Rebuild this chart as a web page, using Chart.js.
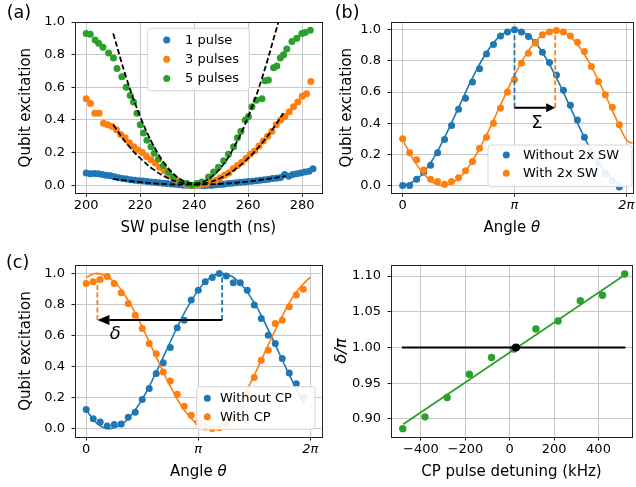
<!DOCTYPE html>
<html>
<head>
<meta charset="utf-8">
<script src="https://cdn.jsdelivr.net/npm/chart.js@4.4.1/dist/chart.umd.min.js"></script>
<style>
  html, body { margin: 0; padding: 0; background: #fff; }
  #wrap { position: relative; width: 636px; height: 487px; overflow: hidden; }
  #wrap canvas { position: absolute; }
</style>
</head>
<body>
<div id="wrap">
  <canvas id="pa" width="325" height="240" style="left:0;top:0"></canvas>
  <canvas id="pb" width="318" height="240" style="left:318px;top:0"></canvas>
  <canvas id="pc" width="325" height="247" style="left:0;top:240px"></canvas>
  <canvas id="pd" width="318" height="247" style="left:318px;top:240px"></canvas>
</div>
<script>
// ---- (a) excitation vs SW pulse length ----
var len1 = [200, 201.5, 203, 204.5, 206, 207.5, 209, 210.5, 212, 213.5, 215, 216.5, 218, 219.5, 221, 222.5, 224, 225.5, 227, 228.5,
            230, 231.5, 233, 234.5, 236, 237.5, 239, 240.5, 242, 243.5, 245, 246.5, 248, 249.5, 251, 252.5, 254, 255.5, 257, 258.5,
            260, 261.5, 263, 264.5, 266, 267.5, 269, 270.5, 272, 273.5, 275, 276.5, 278, 279.5, 281, 282.5, 284];
var exc1 = [0.075, 0.07, 0.072, 0.07, 0.065, 0.06, 0.058, 0.052, 0.045, 0.04, 0.038, 0.033, 0.03, 0.027, 0.025, 0.022, 0.02, 0.018, 0.015, 0.012,
            0.01, 0.007, 0.005, 0.003, 0.0, 0.0, -0.002, 0.0, 0.0, -0.003, 0.0, -0.002, 0.002, 0.004, 0.006, 0.01, 0.012, 0.015, 0.017, 0.02,
            0.022, 0.024, 0.027, 0.03, 0.033, 0.036, 0.04, 0.043, 0.047, 0.065, 0.055, 0.065, 0.07, 0.075, 0.08, 0.085, 0.1];
var len3 = [200, 201.6, 203.2, 204.8, 206.4, 208, 209.6, 211.2, 212.8, 214.4, 216, 217.6, 219.2, 220.8, 222.4, 224, 225.6, 227.2,
            228.8, 230.4, 232, 233.6, 235.2, 236.8, 238.4, 240, 241.6, 243.2, 244.8, 246.4, 248, 249.6, 251.2, 252.8, 254.4, 256,
            257.6, 259.2, 260.8, 262.4, 264, 265.6, 267.2, 268.8, 270.4, 272, 273.6, 275.2, 276.8, 278.4, 280, 281.6, 283.2];
var exc3 = [0.53, 0.50, 0.44, 0.44, 0.38, 0.37, 0.36, 0.34, 0.31, 0.29, 0.26, 0.235, 0.215, 0.20, 0.175, 0.155, 0.135, 0.11,
            0.09, 0.07, 0.05, 0.03, 0.015, 0.005, 0.0, 0.0, 0.0, 0.005, 0.01, 0.02, 0.03, 0.045, 0.06, 0.075, 0.1, 0.12,
            0.14, 0.165, 0.19, 0.21, 0.24, 0.27, 0.30, 0.33, 0.37, 0.40, 0.42, 0.45, 0.48, 0.51, 0.545, 0.56, 0.635];
var len5 = [200.0, 201.5, 203.3, 204.6, 206.2, 208.3, 210.1, 211.4, 213.2, 214.8, 216.3, 217.5, 218.8, 220.0, 221.2, 222.5, 224.0,
            225.2, 226.8, 228.6, 230.5, 232.3, 234.8, 237.3, 239.1, 241.0, 242.8, 245.3, 247.2, 249.0, 250.9, 252.7, 254.6, 256.0,
            257.3, 258.9, 260.1, 261.4, 263.0, 265.1, 266.3, 267.5, 269.4, 270.6, 271.9, 273.1, 274.3, 276.2, 278.0, 279.9, 281.1, 283.0];
var exc5 = [0.93, 0.925, 0.89, 0.87, 0.845, 0.81, 0.78, 0.715, 0.665, 0.60, 0.55, 0.51, 0.44, 0.37, 0.32, 0.275, 0.235,
            0.195, 0.16, 0.12, 0.08, 0.05, 0.02, 0.01, 0.0, 0.01, 0.02, 0.05, 0.08, 0.11, 0.15, 0.19, 0.235, 0.29,
            0.33, 0.40, 0.42, 0.48, 0.52, 0.53, 0.64, 0.645, 0.72, 0.73, 0.78, 0.80, 0.835, 0.88, 0.90, 0.93, 0.935, 0.95];
var fitLen1 = [210, 220, 230, 240, 250, 260, 274];
var fitExc1 = [0.038, 0.018, 0.006, 0.003, 0.008, 0.022, 0.055];
var fitLen3 = [210, 215, 220, 225, 230, 235, 240, 245, 250, 255, 260, 265, 270, 273];
var fitExc3 = [0.37, 0.255, 0.165, 0.095, 0.045, 0.015, 0.005, 0.015, 0.045, 0.095, 0.165, 0.255, 0.365, 0.44];
var fitLen5 = [210, 215, 220, 225, 230, 235, 240, 245, 250, 255, 260, 265, 271.2];
var fitExc5 = [0.93, 0.65, 0.42, 0.24, 0.11, 0.035, 0.01, 0.035, 0.11, 0.24, 0.42, 0.65, 1.0];

// ---- (b) and (c): angle in units of pi ----
var theta = [0, 0.0625, 0.125, 0.1875, 0.25, 0.3125, 0.375, 0.4375, 0.5, 0.5625, 0.625, 0.6875, 0.75, 0.8125, 0.875, 0.9375,
             1, 1.0625, 1.125, 1.1875, 1.25, 1.3125, 1.375, 1.4375, 1.5, 1.5625, 1.625, 1.6875, 1.75, 1.8125, 1.875, 1.9375];
var noSW = [0.0, 0.0, 0.04, 0.085, 0.13, 0.21, 0.295, 0.385, 0.49, 0.56, 0.665, 0.75, 0.845, 0.905, 0.96, 0.985,
            1.0, 0.985, 0.957, 0.918, 0.855, 0.79, 0.71, 0.612, 0.515, 0.42, 0.31, 0.215, 0.14, 0.075, 0.03, -0.01];
var withSW = [0.30, 0.21, 0.165, 0.10, 0.04, 0.025, 0.008, 0.025, 0.05, 0.095, 0.155, 0.24, 0.31, 0.40, 0.497, 0.6,
              0.68, 0.785, 0.85, 0.915, 0.968, 0.985, 0.995, 0.985, 0.96, 0.92, 0.86, 0.765, 0.668, 0.583, 0.503, 0.39];
var fitThNoSW = [0, 0.125, 0.25, 0.375, 0.5, 0.625, 0.75, 0.875, 1, 1.125, 1.25, 1.375, 1.5, 1.625, 1.75, 1.875, 1.94];
var fitNoSW = [0.0, 0.038, 0.146, 0.309, 0.5, 0.691, 0.854, 0.962, 1.0, 0.962, 0.854, 0.691, 0.5, 0.309, 0.146, 0.038, 0.009];
var fitThSW = [0, 0.125, 0.25, 0.364, 0.5, 0.625, 0.75, 0.875, 1.0, 1.125, 1.25, 1.364, 1.5, 1.625, 1.75, 1.875, 2.0, 2.06];
var fitSW = [0.293, 0.134, 0.032, 0.0, 0.045, 0.159, 0.325, 0.517, 0.707, 0.866, 0.968, 1.0, 0.955, 0.841, 0.675, 0.483, 0.293, 0.27];

var noCP = [0.123, 0.064, 0.043, 0.017, 0.027, 0.03, 0.073, 0.105, 0.187, 0.258, 0.355, 0.425, 0.522, 0.65, 0.698, 0.828,
            0.892, 0.946, 0.974, 1.0, 0.983, 0.94, 0.94, 0.892, 0.796, 0.71, 0.602, 0.548, 0.451, 0.358, 0.289, 0.2];
var withCP = [0.935, 0.946, 0.96, 0.98, 0.935, 0.875, 0.806, 0.731, 0.645, 0.548, 0.483, 0.365, 0.307, 0.221, 0.144, 0.086,
              0.04, 0.01, 0.0, 0.005, 0.03, 0.07, 0.14, 0.23, 0.33, 0.441, 0.505, 0.677, 0.698, 0.785, 0.86, 0.897];
var fitThNoCP = [0, 0.1, 0.213, 0.35, 0.5, 0.625, 0.75, 0.875, 1.0, 1.1, 1.213, 1.35, 1.5, 1.625, 1.75, 1.875, 1.95];
var fitNoCP = [0.12, 0.031, 0.0, 0.046, 0.19, 0.364, 0.558, 0.744, 0.892, 0.969, 1.0, 0.954, 0.81, 0.636, 0.442, 0.256, 0.161];
var fitThCP = [0, 0.1, 0.25, 0.375, 0.5, 0.625, 0.75, 0.875, 1.0, 1.1, 1.25, 1.375, 1.5, 1.625, 1.75, 1.875, 2.0];
var fitCP = [0.976, 1.0, 0.946, 0.825, 0.655, 0.461, 0.273, 0.12, 0.024, 0.0, 0.054, 0.175, 0.345, 0.539, 0.727, 0.88, 0.976];

// peak markers and shifts (angle / pi, excitation)
var peakB = { noSW: 1.0, withSW: 1.364, top: 1.0, arrowY: 0.5, sigma: [1.2, 0.4] };
var peakC = { noCP: 1.213, withCP: 0.1, top: 1.0, arrowY: 0.7, delta: [0.26, 0.61] };

// ---- (d) delta/pi vs detuning ----
var detuning = [-482, -382, -282, -182, -82, 18, 118, 218, 318, 418, 518];
var deltaPi = [0.8865, 0.903, 0.930, 0.9625, 0.986, 0.998, 1.026, 1.037, 1.0655, 1.073, 1.1028];
var fitDet = [-480, 518];
var fitDelta = [0.8925, 1.1015];
var refDet = [-486, 521];
var refDelta = [1, 1];
var zeroDet = [28];
var zeroDelta = [1];

var BLUE = '#1f77b4', ORANGE = '#ff7f0e', GREEN = '#2ca02c';
var FONT = "'DejaVu Sans', sans-serif";
Chart.defaults.font.family = FONT;
Chart.defaults.font.size = 13;
Chart.defaults.color = '#000';

function pts(xs, ys) {
  return xs.map(function (x, i) { return { x: x, y: ys[i] }; });
}
function dots(label, xs, ys, color, r) {
  return { label: label, data: pts(xs, ys), showLine: false, pointRadius: r || 3.5, pointHoverRadius: r || 3.5,
           pointBackgroundColor: color, pointBorderWidth: 0, borderColor: color, backgroundColor: color };
}
function curve(xs, ys, color, extra) {
  var d = { data: pts(xs, ys), showLine: true, pointRadius: 0, pointHoverRadius: 0, borderColor: color,
            borderWidth: 1.6, tension: 0.4, fill: false };
  return Object.assign(d, extra || {});
}

function axis(o) {
  return {
    type: 'linear', min: o.min, max: o.max,
    grid: { color: '#c8c8c8', lineWidth: 1, tickColor: '#222', tickLength: 3.5, tickWidth: 1 },
    border: { display: false },
    ticks: { stepSize: o.step, includeBounds: false, padding: o.pad, color: '#000',
             font: o.tickFont || { size: 13 },
             maxRotation: 0, autoSkip: false, callback: o.fmt },
    title: o.title ? { display: true, text: o.title, color: '#000',
                       font: { size: o.titleSize || 15, style: o.titleStyle || 'normal' },
                       padding: { top: o.titlePad, bottom: 0 } } : { display: false },
    afterFit: function (s) {
      if (s.isHorizontal()) { s.height = o.size; s.paddingLeft = 0; s.paddingRight = 0; }
      else { s.width = o.size; s.paddingTop = 0; s.paddingBottom = 0; }
    }
  };
}

function piLabel(v) {
  if (v === 0) return '0';
  if (v === 1) return 'π';
  if (v === 2) return '2π';
  return '';
}
function piFont(c) {
  return { size: 13, style: c.tick && c.tick.value !== 0 ? 'italic' : 'normal' };
}

function roundRect(ctx, x, y, w, h, r) {
  ctx.beginPath();
  ctx.moveTo(x + r, y);
  ctx.lineTo(x + w - r, y); ctx.quadraticCurveTo(x + w, y, x + w, y + r);
  ctx.lineTo(x + w, y + h - r); ctx.quadraticCurveTo(x + w, y + h, x + w - r, y + h);
  ctx.lineTo(x + r, y + h); ctx.quadraticCurveTo(x, y + h, x, y + h - r);
  ctx.lineTo(x, y + r); ctx.quadraticCurveTo(x, y, x + r, y);
  ctx.closePath();
}

var deco = {
  id: 'deco',
  afterDatasetsDraw: function (chart, args, opts) {
    var ctx = chart.ctx, a = chart.chartArea, xs = chart.scales.x, ys = chart.scales.y;
    ctx.save();
    (opts.arrows || []).forEach(function (ar) {
      var x0 = xs.getPixelForValue(ar.from), x1 = xs.getPixelForValue(ar.to), y = ys.getPixelForValue(ar.y);
      var dir = x1 > x0 ? 1 : -1;
      ctx.strokeStyle = '#000'; ctx.lineWidth = 2;
      ctx.beginPath(); ctx.moveTo(x0, y); ctx.lineTo(x1 - dir * ar.hl, y); ctx.stroke();
      ctx.fillStyle = '#000';
      ctx.beginPath(); ctx.moveTo(x1, y);
      ctx.lineTo(x1 - dir * ar.hl, y - ar.hw / 2); ctx.lineTo(x1 - dir * ar.hl, y + ar.hw / 2);
      ctx.closePath(); ctx.fill();
    });
    (opts.symbols || []).forEach(function (s) {
      ctx.fillStyle = '#000';
      ctx.font = (s.italic ? 'italic ' : '') + s.size + 'px ' + FONT;
      ctx.textAlign = 'center'; ctx.textBaseline = 'middle';
      ctx.fillText(s.text, xs.getPixelForValue(s.at[0]), ys.getPixelForValue(s.at[1]));
    });
    // spines
    ctx.strokeStyle = '#222'; ctx.lineWidth = 1;
    ctx.strokeRect(Math.round(a.left) + 0.5, Math.round(a.top) + 0.5,
                   Math.round(a.right - a.left), Math.round(a.bottom - a.top));
    // legend box
    var lg = opts.legend;
    if (lg) {
      roundRect(ctx, a.left + lg.box[0], a.top + lg.box[1], lg.box[2], lg.box[3], 3);
      ctx.fillStyle = 'rgba(255,255,255,0.9)'; ctx.fill();
      ctx.strokeStyle = '#d6d6d6'; ctx.lineWidth = 1; ctx.stroke();
      lg.items.forEach(function (label, i) {
        var ds = chart.data.datasets.find(function (d) { return d.label === label; });
        var ry = a.top + lg.rowY + i * lg.rowStep;
        ctx.fillStyle = ds.pointBackgroundColor;
        ctx.beginPath(); ctx.arc(a.left + lg.markX, ry, 3.5, 0, 2 * Math.PI); ctx.fill();
        ctx.fillStyle = '#000'; ctx.font = '13px ' + FONT;
        ctx.textAlign = 'left'; ctx.textBaseline = 'middle';
        ctx.fillText(label, a.left + lg.textX, ry + 0.5);
      });
    }
    ctx.restore();
  },
  afterDraw: function (chart, args, opts) {
    var ctx = chart.ctx, a = chart.chartArea;
    ctx.save();
    ctx.fillStyle = '#000';
    ctx.textBaseline = 'alphabetic'; ctx.textAlign = 'left';
    if (opts.tag) {
      ctx.font = '17.5px ' + FONT;
      ctx.fillText(opts.tag.text, opts.tag.x, opts.tag.y);
    }
    if (opts.xTitle) {
      var parts = opts.xTitle.parts, total = 0;
      parts.forEach(function (p) {
        ctx.font = (p[1] ? 'italic ' : '') + '15px ' + FONT;
        total += ctx.measureText(p[0]).width;
      });
      var x = (a.left + a.right) / 2 - total / 2;
      parts.forEach(function (p) {
        ctx.font = (p[1] ? 'italic ' : '') + '15px ' + FONT;
        ctx.fillText(p[0], x, opts.xTitle.y);
        x += ctx.measureText(p[0]).width;
      });
    }
    ctx.restore();
  }
};

function make(id, datasets, x, y, padding, decoOpts) {
  return new Chart(document.getElementById(id), {
    type: 'scatter',
    data: { datasets: datasets },
    options: {
      responsive: false, animation: false, events: [],
      layout: { padding: padding },
      plugins: { legend: { display: false }, tooltip: { enabled: false }, deco: decoOpts },
      scales: { x: x, y: y }
    },
    plugins: [deco]
  });
}

var dashBlack = { borderColor: '#000', borderWidth: 1.8, borderDash: [5.5, 2.6], tension: 0.4 };
var fmt1 = function (v) { return v.toFixed(1); };

// (a)
make('pa', [
  curve(fitLen5, fitExc5, '#000', dashBlack),
  curve(fitLen3, fitExc3, '#000', dashBlack),
  curve(fitLen1, fitExc1, '#000', dashBlack),
  dots('5 pulses', len5, exc5, GREEN),
  dots('3 pulses', len3, exc3, ORANGE),
  dots('1 pulse', len1, exc1, BLUE)
],
  axis({ min: 195.85, max: 287.15, step: 20, pad: 1, size: 46.7, fmt: function (v) { return String(v); } }),
  axis({ min: -0.05, max: 1.0, step: 0.2, pad: 6.5, size: 75, fmt: fmt1, title: 'Qubit excitation', titlePad: 17 }),
  { left: 0, top: 22, right: 3, bottom: 0 },
  { tag: { text: '(a)', x: 6.7, y: 18.4 },
    xTitle: { parts: [['SW pulse length (ns)', false]], y: 232 },
    legend: { box: [72.7, 6.3, 101.6, 62.4], items: ['1 pulse', '3 pulses', '5 pulses'],
              rowY: 18, rowStep: 19.3, markX: 91.7, textX: 110 } });

// (b)
make('pb', [
  curve([peakB.withSW, peakB.withSW], [peakB.arrowY, 0.995], ORANGE, { borderDash: [5, 2.5], borderWidth: 1.8, tension: 0 }),
  curve([peakB.noSW, peakB.noSW], [peakB.arrowY, peakB.top], BLUE, { borderDash: [5, 2.5], borderWidth: 1.8, tension: 0 }),
  curve(fitThSW, fitSW, ORANGE),
  dots('With 2x SW', theta, withSW, ORANGE),
  curve(fitThNoSW, fitNoSW, BLUE),
  dots('Without 2x SW', theta, noSW, BLUE)
],
  axis({ min: -0.104, max: 2.055, step: 1, pad: 1, size: 46.7, fmt: piLabel, tickFont: piFont }),
  axis({ min: -0.05, max: 1.05, step: 0.2, pad: 6.5, size: 73, fmt: fmt1, title: 'Qubit excitation', titlePad: 20.3 }),
  { left: 0, top: 22, right: 1.5, bottom: 0 },
  { tag: { text: '(b)', x: 16.7, y: 18.4 },
    xTitle: { parts: [['Angle ', false], ['θ', true]], y: 232 },
    arrows: [{ from: peakB.noSW, to: peakB.withSW, y: peakB.arrowY, hl: 9, hw: 9 }],
    symbols: [{ text: 'Σ', at: peakB.sigma, size: 18, italic: false }],
    legend: { box: [97, 123, 144, 41.7], items: ['Without 2x SW', 'With 2x SW'],
              rowY: 133, rowStep: 18.3, markX: 115.3, textX: 132 } });

// (c)
make('pc', [
  curve([peakC.withCP, peakC.withCP], [peakC.arrowY, peakC.top], ORANGE, { borderDash: [5, 2.5], borderWidth: 1.8, tension: 0 }),
  curve([peakC.noCP, peakC.noCP], [peakC.arrowY, peakC.top], BLUE, { borderDash: [5, 2.5], borderWidth: 1.8, tension: 0 }),
  curve(fitThCP, fitCP, ORANGE),
  dots('With CP', theta, withCP, ORANGE),
  curve(fitThNoCP, fitNoCP, BLUE),
  dots('Without CP', theta, noCP, BLUE)
],
  axis({ min: -0.1, max: 2.1, step: 1, pad: 1, size: 50, fmt: piLabel, tickFont: piFont }),
  axis({ min: -0.054, max: 1.054, step: 0.2, pad: 6.5, size: 75, fmt: fmt1, title: 'Qubit excitation', titlePad: 17 }),
  { left: 0, top: 25, right: 3, bottom: 0 },
  { tag: { text: '(c)', x: 6, y: 28.4 },
    xTitle: { parts: [['Angle ', false], ['θ', true]], y: 235.5 },
    arrows: [{ from: peakC.noCP, to: peakC.withCP, y: peakC.arrowY, hl: 12, hw: 10 }],
    symbols: [{ text: 'δ', at: peakC.delta, size: 18, italic: true }],
    legend: { box: [121.7, 121.7, 118.3, 42.6], items: ['Without CP', 'With CP'],
              rowY: 133.3, rowStep: 18.4, markX: 132.3, textX: 145 } });

// (d)
make('pd', [
  dots('zero', zeroDet, zeroDelta, '#000', 4),
  curve(refDet, refDelta, '#000', { borderWidth: 2, tension: 0 }),
  curve(fitDet, fitDelta, GREEN, { borderWidth: 1.8, tension: 0 }),
  dots('data', detuning, deltaPi, GREEN, 3.7)
],
  axis({ min: -535, max: 551, step: 200, pad: 1, size: 50, fmt: function (v) { return String(v).replace('-', '\u2212'); } }),
  axis({ min: 0.8748, max: 1.1154, step: 0.05, pad: 6.5, size: 73, fmt: function (v) { return v.toFixed(2); },
         title: 'δ/π', titleStyle: 'italic', titleSize: 16.5, titlePad: 14 }),
  { left: 0, top: 25, right: 1.5, bottom: 0 },
  { xTitle: { parts: [['CP pulse detuning (kHz)', false]], y: 235.5 } });
</script>
</body>
</html>
